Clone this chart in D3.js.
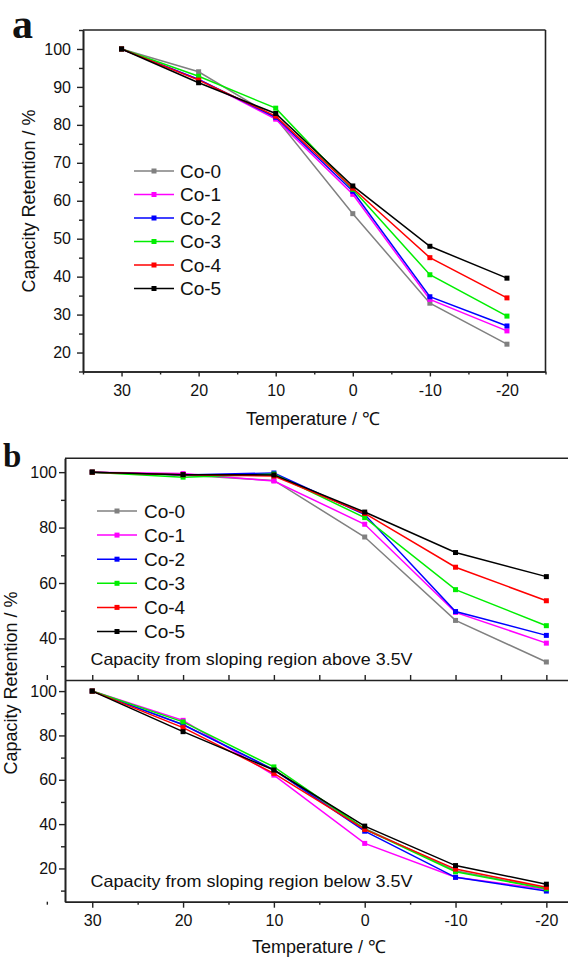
<!DOCTYPE html>
<html>
<head>
<meta charset="utf-8">
<script src="https://cdn.jsdelivr.net/npm/d3@7"></script>
<style>
  html, body { margin: 0; padding: 0; background: #fff; }
  svg { display: block; }
  text { font-family: "Liberation Sans", Arial, sans-serif; fill: #111; }
</style>
</head>
<body>
<svg id="chart" width="568" height="958"></svg>
<script>
// ---------------- data ----------------
const temps = [30, 20, 10, 0, -10, -20];
const seriesNames = ["Co-0", "Co-1", "Co-2", "Co-3", "Co-4", "Co-5"];
const seriesColors = ["#808080", "#ff00ff", "#0000ff", "#00ee00", "#ff0000", "#000000"];

// panel a: total capacity retention (%)
const aCo0 = [100, 94.0, 81.8, 56.6, 33.0, 22.2];
const aCo1 = [100, 92.0, 81.5, 61.7, 34.0, 25.7];
const aCo2 = [100, 92.0, 82.0, 62.5, 34.7, 27.0];
const aCo3 = [100, 92.8, 84.4, 63.0, 40.5, 29.6];
const aCo4 = [100, 91.8, 82.3, 63.3, 45.0, 34.4];
const aCo5 = [100, 91.1, 83.0, 63.9, 48.0, 39.6];

// panel b upper: sloping region above 3.5V
const bUpCo0 = [100, 99.0, 97.0, 76.6, 46.5, 31.5];
const bUpCo1 = [100, 99.5, 96.8, 81.2, 49.4, 38.3];
const bUpCo2 = [100, 99.0, 99.7, 84.7, 49.7, 41.1];
const bUpCo3 = [100, 98.2, 99.3, 83.6, 57.6, 44.6];
const bUpCo4 = [100, 99.1, 98.6, 85.1, 65.7, 53.6];
const bUpCo5 = [100, 99.1, 99.0, 85.6, 71.0, 62.3];

// panel b lower: sloping region below 3.5V
const bLoCo0 = [100, 85.0, 64.5, 38.0, 19.0, 11.0];
const bLoCo1 = [100, 86.8, 62.1, 31.3, 16.0, 10.6];
const bLoCo2 = [100, 84.8, 64.5, 36.8, 16.0, 9.8];
const bLoCo3 = [100, 86.1, 65.8, 37.8, 18.5, 10.8];
const bLoCo4 = [100, 83.5, 62.9, 37.6, 19.7, 11.5];
const bLoCo5 = [100, 81.7, 64.4, 39.1, 21.3, 12.9];

const xTickValues = [30, 20, 10, 0, -10, -20];
const xMinorValues = [35, 25, 15, 5, -5, -15, -25];
const aYTicks = [20, 30, 40, 50, 60, 70, 80, 90, 100];
const aYMinor = [15, 25, 35, 45, 55, 65, 75, 85, 95, 105];
const bUpYTicks = [40, 60, 80, 100];
const bUpYMinor = [30, 50, 70, 90];
const bLoYTicks = [20, 40, 60, 80, 100];
const bLoYMinor = [10, 30, 50, 70, 90];

const panelA = [aCo0, aCo1, aCo2, aCo3, aCo4, aCo5];
const panelBUp = [bUpCo0, bUpCo1, bUpCo2, bUpCo3, bUpCo4, bUpCo5];
const panelBLo = [bLoCo0, bLoCo1, bLoCo2, bLoCo3, bLoCo4, bLoCo5];

// ---------------- drawing ----------------
const svg = d3.select("#chart");
const frameColor = "#222";
const fmt = d => String(d);  // plain hyphen minus, as in the original

function styleAxis(g) {
  g.selectAll(".domain").attr("stroke", frameColor).attr("stroke-width", 1.6);
  g.selectAll(".tick line").attr("stroke", frameColor).attr("stroke-width", 1.4);
  g.selectAll(".tick text").style("font-size", "16px").attr("fill", "#111")
    .style("font-family", '"Liberation Sans", Arial, sans-serif');
}

function drawSeries(g, x, y, data, markerSize) {
  const line = d3.line().x((d, i) => x(temps[i])).y(d => y(d));
  data.forEach((vals, s) => {
    g.append("path").datum(vals)
      .attr("d", line).attr("fill", "none")
      .attr("stroke", seriesColors[s]).attr("stroke-width", 1.5);
    g.selectAll(null).data(vals).enter().append("rect")
      .attr("x", (d, i) => x(temps[i]) - markerSize / 2)
      .attr("y", d => y(d) - markerSize / 2)
      .attr("width", markerSize).attr("height", markerSize)
      .attr("fill", seriesColors[s]);
  });
}

function drawLegend(g, x0, x1, tx, yStart, step, fontSize, markerSize) {
  seriesNames.forEach((name, i) => {
    const yy = yStart + i * step;
    g.append("line").attr("x1", x0).attr("x2", x1).attr("y1", yy).attr("y2", yy)
      .attr("stroke", seriesColors[i]).attr("stroke-width", 1.5);
    g.append("rect").attr("x", (x0 + x1) / 2 - markerSize / 2).attr("y", yy - markerSize / 2)
      .attr("width", markerSize).attr("height", markerSize).attr("fill", seriesColors[i]);
    g.append("text").attr("x", tx).attr("y", yy + fontSize * 0.36)
      .style("font-size", fontSize + "px").text(name);
  });
}

// ===== Panel a =====
{
  const L = 83, R = 545.5, T = 30, B = 371.5;
  const x = d3.scaleLinear().domain([35, -25]).range([L, R]);
  const y = d3.scaleLinear().domain([15, 105]).range([B, T]);
  const g = svg.append("g");

  g.append("line").attr("x1", L).attr("x2", R).attr("y1", T).attr("y2", T)
    .attr("stroke", frameColor).attr("stroke-width", 1.6);
  g.append("line").attr("x1", R).attr("x2", R).attr("y1", T).attr("y2", B)
    .attr("stroke", frameColor).attr("stroke-width", 1.6);

  g.append("g").attr("transform", `translate(${L},0)`)
    .call(d3.axisLeft(y).tickValues(aYMinor).tickSize(4).tickFormat("").tickSizeOuter(0)).call(styleAxis);
  g.append("g").attr("transform", `translate(${L},0)`)
    .call(d3.axisLeft(y).tickValues(aYTicks).tickSize(6).tickPadding(6).tickFormat(fmt).tickSizeOuter(0)).call(styleAxis);
  g.append("g").attr("transform", `translate(0,${B})`)
    .call(d3.axisBottom(x).tickValues(xMinorValues).tickSize(3).tickFormat("").tickSizeOuter(0)).call(styleAxis);
  g.append("g").attr("transform", `translate(0,${B})`)
    .call(d3.axisBottom(x).tickValues(xTickValues).tickSize(5).tickPadding(8).tickFormat(fmt).tickSizeOuter(0)).call(styleAxis);

  drawSeries(g, x, y, panelA, 5);
  drawLegend(g, 134, 174, 180, 171, 23.5, 19, 5);

  g.append("text").attr("x", 313).attr("y", 425).attr("text-anchor", "middle")
    .style("font-size", "18px").text("Temperature / ℃");
  g.append("text").attr("transform", "translate(35,201) rotate(-90)").attr("text-anchor", "middle")
    .style("font-size", "18px").text("Capacity Retention / %");
  g.append("text").attr("x", 12).attr("y", 38)
    .style("font-family", '"Liberation Serif", "Times New Roman", serif')
    .style("font-weight", "bold").style("font-size", "42px").text("a");
}

// ===== Panel b =====
{
  const L = 65, R = 573.6, T = 458.3, M = 680, B = 901.7;
  const x = d3.scaleLinear().domain([33, -23]).range([L, R]);
  const yUp = d3.scaleLinear().domain([25, 105]).range([M, T]);
  const yLo = d3.scaleLinear().domain([5, 105]).range([B, M]);
  const g = svg.append("g");

  g.append("line").attr("x1", L).attr("x2", R).attr("y1", T).attr("y2", T)
    .attr("stroke", frameColor).attr("stroke-width", 1.6);

  g.append("g").attr("transform", `translate(${L},0)`)
    .call(d3.axisLeft(yUp).tickValues(bUpYMinor).tickSize(4).tickFormat("").tickSizeOuter(0)).call(styleAxis);
  g.append("g").attr("transform", `translate(${L},0)`)
    .call(d3.axisLeft(yUp).tickValues(bUpYTicks).tickSize(6).tickPadding(2).tickFormat(fmt).tickSizeOuter(0)).call(styleAxis);
  g.append("g").attr("transform", `translate(0,${M})`)
    .call(d3.axisTop(x).tickValues(xTickValues.concat(xMinorValues)).tickSize(5).tickFormat("").tickSizeOuter(0)).call(styleAxis);
  g.append("g").attr("transform", `translate(${L},0)`)
    .call(d3.axisLeft(yLo).tickValues(bLoYMinor).tickSize(4).tickFormat("").tickSizeOuter(0)).call(styleAxis);
  g.append("g").attr("transform", `translate(${L},0)`)
    .call(d3.axisLeft(yLo).tickValues(bLoYTicks).tickSize(6).tickPadding(2).tickFormat(fmt).tickSizeOuter(0)).call(styleAxis);
  g.append("g").attr("transform", `translate(0,${B})`)
    .call(d3.axisBottom(x).tickValues(xMinorValues).tickSize(3).tickFormat("").tickSizeOuter(0)).call(styleAxis);
  g.append("g").attr("transform", `translate(0,${B})`)
    .call(d3.axisBottom(x).tickValues(xTickValues).tickSize(6).tickPadding(7).tickFormat(fmt).tickSizeOuter(0)).call(styleAxis);

  drawSeries(g, x, yUp, panelBUp, 5);
  drawSeries(g, x, yLo, panelBLo, 5);
  drawLegend(g, 97, 137, 144, 511, 24.1, 19, 5);

  g.append("text").attr("x", 90.5).attr("y", 665)
    .attr("textLength", 322).attr("lengthAdjust", "spacingAndGlyphs")
    .style("font-size", "16.5px").text("Capacity from sloping region above 3.5V");
  g.append("text").attr("x", 90.5).attr("y", 887)
    .attr("textLength", 322).attr("lengthAdjust", "spacingAndGlyphs")
    .style("font-size", "16.5px").text("Capacity from sloping region below 3.5V");

  g.append("text").attr("x", 319).attr("y", 953).attr("text-anchor", "middle")
    .style("font-size", "18px").text("Temperature / ℃");
  g.append("text").attr("transform", "translate(17,683) rotate(-90)").attr("text-anchor", "middle")
    .style("font-size", "18px").text("Capacity Retention / %");
  g.append("text").attr("x", 3).attr("y", 466.5)
    .style("font-family", '"Liberation Serif", "Times New Roman", serif')
    .style("font-weight", "bold").style("font-size", "33px").text("b");
}
</script>
</body>
</html>
